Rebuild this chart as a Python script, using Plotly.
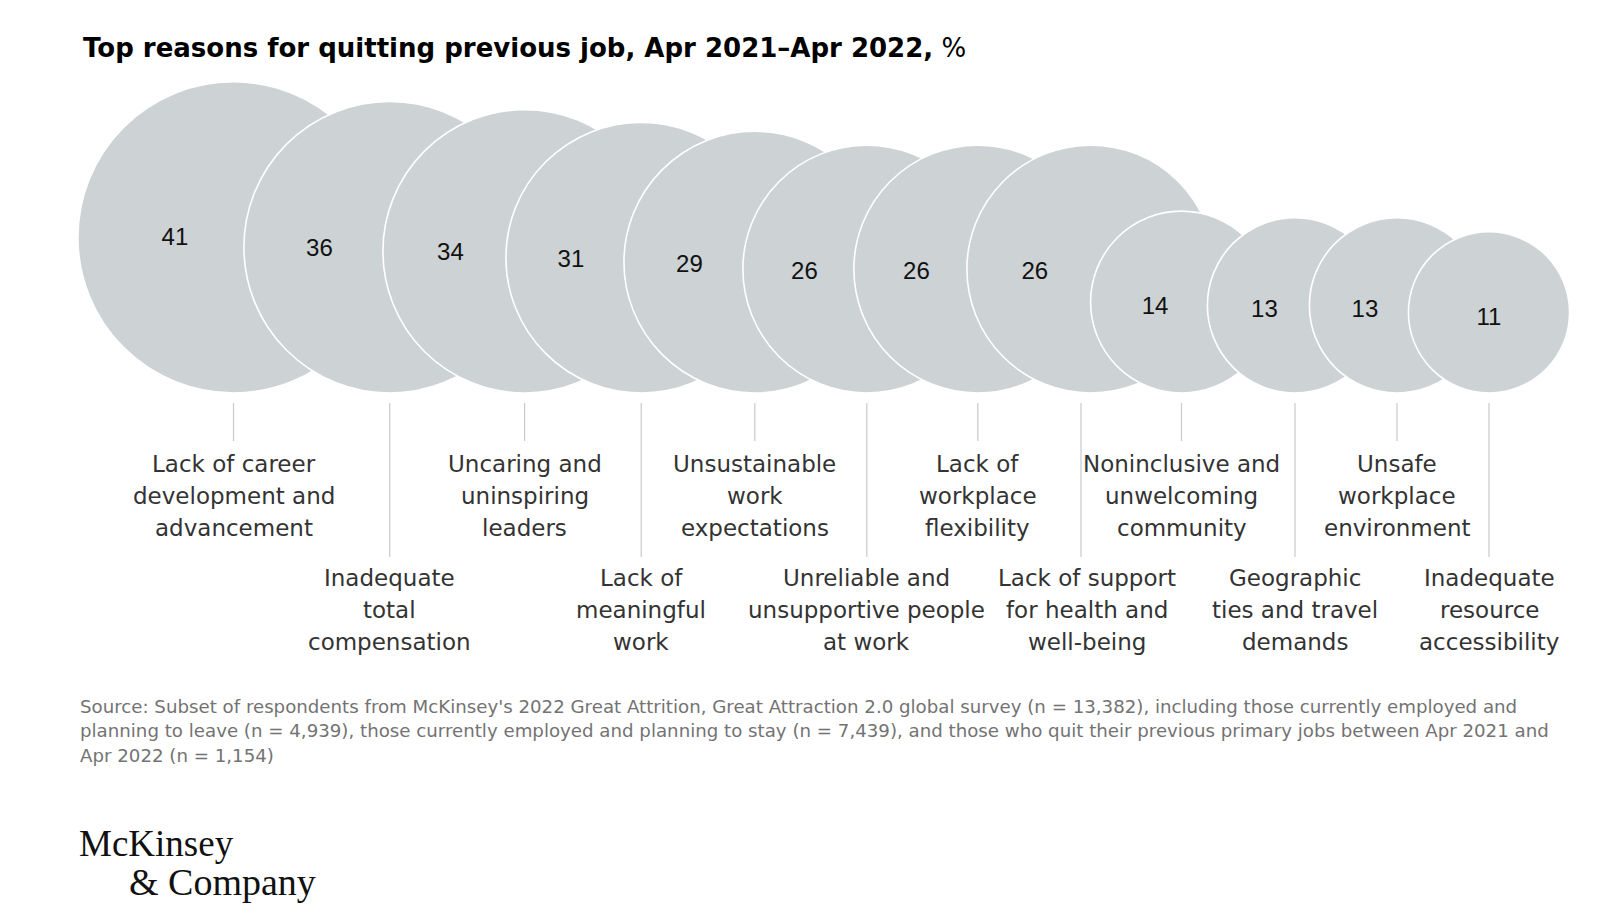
import numpy as np
import plotly.graph_objects as go

# data
reasons = [
    "Lack of career<br>development and<br>advancement",
    "Inadequate<br>total<br>compensation",
    "Uncaring and<br>uninspiring<br>leaders",
    "Lack of<br>meaningful<br>work",
    "Unsustainable<br>work<br>expectations",
    "Unreliable and<br>unsupportive people<br>at work",
    "Lack of<br>workplace<br>flexibility",
    "Lack of support<br>for health and<br>well-being",
    "Noninclusive and<br>unwelcoming<br>community",
    "Geographic<br>ties and travel<br>demands",
    "Unsafe<br>workplace<br>environment",
    "Inadequate<br>resource<br>accessibility",
]
share = [41, 36, 34, 31, 29, 26, 26, 26, 14, 13, 13, 11]

# layout (pixel-like axis units)
centers = [232.5, 388.7, 523.6, 640.2, 753.8, 865.8, 976.8, 1089.8, 1180.5, 1294, 1396, 1488]
label_x = [232.5, 388.7, 523.6, 640.2, 753.8, 865.8, 976.8, 1080, 1180.5, 1294, 1396, 1488]
baseline = 393
px_per_sqrt = 48.6   # diameter per sqrt(%)

vals = np.array(share, dtype=float)
diam = px_per_sqrt * np.sqrt(vals)
rad = diam / 2
cx = np.array(centers)
cy = baseline - rad

# number positions: middle of the visible slice of each circle
left = cx - rad
num_x = [(left[i] + left[i + 1]) / 2 + 6 for i in range(len(share) - 1)] + [cx[-1]]
num_x[0] += 8
num_y = cy + 2 + (rad.max() - rad) * 0.06

GREY = "#cdd2d4"
FONT = "Liberation Sans"
TXT_FONT = "DejaVu Sans"

fig = go.Figure()

fig.add_trace(go.Scatter(
    x=cx, y=cy, mode="markers",
    marker=dict(size=diam, sizemode="diameter", sizeref=1, color=GREY,
                opacity=1, line=dict(color="white", width=1.6)),
    hoverinfo="skip", showlegend=False))

fig.add_trace(go.Scatter(
    x=num_x, y=num_y, mode="text", text=[str(v) for v in share],
    textfont=dict(family=FONT, size=24, color="#111111"),
    textposition="middle center", hoverinfo="skip", showlegend=False))

# connector stems: even items on top row, odd on bottom row
sx, sy = [], []
for i, lx in enumerate(label_x):
    sx += [lx, lx, None]
    sy += [403, 441 if i % 2 == 0 else 557, None]
fig.add_trace(go.Scatter(x=sx, y=sy, mode="lines",
                         line=dict(color="#c9c9c9", width=1.2),
                         hoverinfo="skip", showlegend=False))

# labels, one annotation per line so the line pitch matches
for i, txt in enumerate(reasons):
    y0 = 464 if i % 2 == 0 else 578
    lx = 1086 if i == 7 else label_x[i]
    for k, line in enumerate(txt.split("<br>")):
        fig.add_annotation(x=lx, y=y0 + 32 * k, text=line, showarrow=False,
                           xanchor="center", yanchor="middle",
                           font=dict(family=TXT_FONT, size=23, color="#333333"))

fig.add_annotation(x=80, y=48, xanchor="left", yanchor="middle", showarrow=False,
                   text="<b>Top reasons for quitting previous job, Apr 2021–Apr 2022,</b> %",
                   font=dict(family=TXT_FONT, size=26, color="#000000"))

source_lines = [
    "Source: Subset of respondents from McKinsey's 2022 Great Attrition, Great Attraction 2.0 global survey (n = 13,382), including those currently employed and",
    "planning to leave (n = 4,939), those currently employed and planning to stay (n = 7,439), and those who quit their previous primary jobs between Apr 2021 and",
    "Apr 2022 (n = 1,154)",
]
for k, line in enumerate(source_lines):
    fig.add_annotation(x=77, y=706 + 24.5 * k, xanchor="left", yanchor="middle",
                       showarrow=False, text=line,
                       font=dict(family=TXT_FONT, size=18.2, color="#737373"))

# logo
fig.add_annotation(x=76, y=843, xanchor="left", yanchor="middle", showarrow=False,
                   text="McKinsey", font=dict(family="Liberation Serif", size=37, color="#111111"))
fig.add_annotation(x=126, y=882, xanchor="left", yanchor="middle", showarrow=False,
                   text="&amp; Company", font=dict(family="Liberation Serif", size=38, color="#111111"))

fig.update_layout(
    width=1600, height=922,
    margin=dict(l=0, r=0, t=0, b=0),
    paper_bgcolor="white", plot_bgcolor="white",
    xaxis=dict(range=[7, 1607], visible=False, fixedrange=True),
    yaxis=dict(range=[930, 8], visible=False, fixedrange=True),
    showlegend=False,
)

fig.write_html("out.html")
